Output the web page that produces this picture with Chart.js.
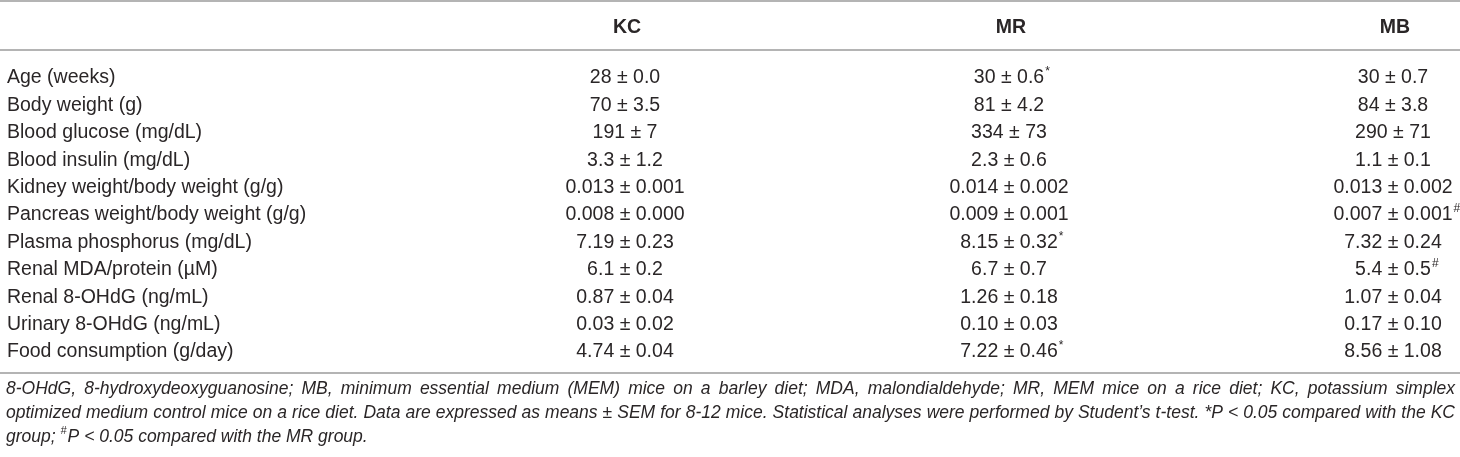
<!DOCTYPE html>
<html>
<head>
<meta charset="utf-8">
<script src="https://cdn.jsdelivr.net/npm/chart.js@4/dist/chart.umd.min.js"></script>
<style>
  html, body { margin: 0; padding: 0; background: #fff; }
  #wrap { width: 1460px; height: 457px; position: relative; }
</style>
</head>
<body>
<div id="wrap"><canvas id="tableChart"></canvas></div>
<script>
    // Группы (столбцы) и показатели (строки)
    const groups = ['KC', 'MR', 'MB'];
    const rows = [
        'Age (weeks)',
        'Body weight (g)',
        'Blood glucose (mg/dL)',
        'Blood insulin (mg/dL)',
        'Kidney weight/body weight (g/g)',
        'Pancreas weight/body weight (g/g)',
        'Plasma phosphorus (mg/dL)',
        'Renal MDA/protein (\u00b5M)',
        'Renal 8-OHdG (ng/mL)',
        'Urinary 8-OHdG (ng/mL)',
        'Food consumption (g/day)'
    ];

    // Средние значения и SEM (строками - чтобы сохранить знаки после запятой)
    const kcMean = ['28', '70', '191', '3.3', '0.013', '0.008', '7.19', '6.1', '0.87', '0.03', '4.74'];
    const kcSem  = ['0.0', '3.5', '7', '1.2', '0.001', '0.000', '0.23', '0.2', '0.04', '0.02', '0.04'];
    const mrMean = ['30', '81', '334', '2.3', '0.014', '0.009', '8.15', '6.7', '1.26', '0.10', '7.22'];
    const mrSem  = ['0.6', '4.2', '73', '0.6', '0.002', '0.001', '0.32', '0.7', '0.18', '0.03', '0.46'];
    const mbMean = ['30', '84', '290', '1.1', '0.013', '0.007', '7.32', '5.4', '1.07', '0.17', '8.56'];
    const mbSem  = ['0.7', '3.8', '71', '0.1', '0.002', '0.001', '0.24', '0.5', '0.04', '0.10', '1.08'];

    // Значимость: * против KC, # против MR
    const kcSig = ['', '', '', '', '', '', '', '', '', '', ''];
    const mrSig = ['*', '', '', '', '', '', '*', '', '', '', '*'];
    const mbSig = ['', '', '', '', '', '#', '', '#', '', '', ''];

    // Примечание под таблицей (по строкам, как в оригинале; |#| - надстрочный знак)
    const noteLines = [
        '8-OHdG, 8-hydroxydeoxyguanosine; MB, minimum essential medium (MEM) mice on a barley diet; MDA, malondialdehyde; MR, MEM mice on a rice diet; KC, potassium simplex',
        'optimized medium control mice on a rice diet. Data are expressed as means \u00b1 SEM for 8-12 mice. Statistical analyses were performed by Student\u2019s t-test. *P < 0.05 compared with the KC',
        'group; |#|P < 0.05 compared with the MR group.'
    ];

    const FONT = '"Liberation Sans", Arial, sans-serif';
    const BODY_SIZE = 19.5;
    const NOTE_SIZE = 17.5;
    const TEXT_COLOR = '#2a2627';
    const RULE_COLOR = '#9b9b9b';

    const columnData = [
        { mean: kcMean, sem: kcSem, sig: kcSig },
        { mean: mrMean, sem: mrSem, sig: mrSig },
        { mean: mbMean, sem: mbSem, sig: mbSig }
    ];

    const noteFont = 'italic ' + NOTE_SIZE + 'px ' + FONT;
    const supFont = 'italic ' + Math.round(NOTE_SIZE * 0.62) + 'px ' + FONT;

    // Слово с надстрочными частями: рисуем или только меряем
    function drawWord(ctx, w, x0, draw) {
        const parts = w.split('|');
        let px = x0;
        parts.forEach((p, k) => {
            if (!p) return;
            if (k % 2 === 1) {
                ctx.font = supFont;
                if (draw) ctx.fillText(p, px, -6);
                px += ctx.measureText(p).width + 1;
                ctx.font = noteFont;
            } else {
                if (draw) ctx.fillText(p, px, 0);
                px += ctx.measureText(p).width;
            }
        });
        return px - x0;
    }

    // Строка с выравниванием по ширине (как в журнальном примечании)
    function drawJustified(ctx, words, left, width, yPos, justify) {
        ctx.font = noteFont;
        const widths = words.map(w => drawWord(ctx, w, 0, false));
        const total = widths.reduce((a, b) => a + b, 0);
        const space = ctx.measureText(' ').width;
        let gap = justify ? (width - total) / (words.length - 1) : space;
        let sx = 1;
        if (gap < space * 0.8) {
            gap = space * 0.8;
            sx = width / (total + gap * (words.length - 1));
        }
        ctx.save();
        ctx.translate(left, yPos);
        ctx.scale(sx, 1);
        let cx = 0;
        words.forEach((w, i) => {
            drawWord(ctx, w, cx, true);
            cx += widths[i] + gap;
        });
        ctx.restore();
    }

    const tablePlugin = {
        id: 'tableText',
        afterDatasetsDraw(chart) {
            const { ctx, scales: { x, y } } = chart;
            const W = chart.width;
            ctx.save();
            ctx.fillStyle = TEXT_COLOR;
            ctx.textBaseline = 'middle';

            // Заголовки столбцов
            ctx.font = 'bold ' + BODY_SIZE + 'px ' + FONT;
            ctx.textAlign = 'center';
            groups.forEach((g, i) => {
                ctx.fillText(g, x.getPixelForValue(i) + 2, y.top - 50);
            });

            // Названия строк
            ctx.font = BODY_SIZE + 'px ' + FONT;
            ctx.textAlign = 'left';
            rows.forEach((r, i) => {
                ctx.fillText(r, 7, y.getPixelForValue(i));
            });

            // Ячейки - по координатам точек набора данных
            chart.data.datasets.forEach((ds, d) => {
                const meta = chart.getDatasetMeta(d);
                const col = columnData[d];
                meta.data.forEach((pt, i) => {
                    const txt = col.mean[i] + ' \u00b1 ' + col.sem[i];
                    ctx.font = BODY_SIZE + 'px ' + FONT;
                    ctx.textAlign = 'center';
                    ctx.fillText(txt, pt.x, pt.y);
                    if (col.sig[i]) {
                        const w = ctx.measureText(txt).width;
                        ctx.font = '12px ' + FONT;
                        ctx.textAlign = 'left';
                        ctx.fillText(col.sig[i], pt.x + w / 2 + 1, pt.y - 6);
                    }
                });
            });

            // Линии таблицы
            ctx.strokeStyle = RULE_COLOR;
            ctx.lineWidth = 1.5;
            [1, y.top - 28, y.bottom + 21].forEach(ly => {
                ctx.beginPath();
                ctx.moveTo(0, ly);
                ctx.lineTo(W, ly);
                ctx.stroke();
            });

            // Примечание
            ctx.textAlign = 'left';
            noteLines.forEach((line, i) => {
                drawJustified(ctx, line.split(' '), 6, 1449, y.bottom + 37 + i * 24, i < noteLines.length - 1);
            });
            ctx.restore();
        }
    };

    const ctx = document.getElementById('tableChart').getContext('2d');
    const chart = new Chart(ctx, {
        type: 'scatter',
        data: {
            datasets: groups.map(g => ({
                label: g,
                data: rows.map(r => ({ x: g, y: r })),
                pointRadius: 0,
                pointHoverRadius: 0
            }))
        },
        options: {
            responsive: true,
            maintainAspectRatio: false,
            animation: false,
            events: [],
            layout: {
                padding: { left: 625, right: 67, top: 78, bottom: 105 }
            },
            scales: {
                x: { type: 'category', labels: groups, offset: false, display: false },
                y: { type: 'category', labels: rows, offset: false, display: false }
            },
            plugins: {
                legend: { display: false },
                tooltip: { enabled: false }
            }
        },
        plugins: [tablePlugin]
    });
</script>
</body>
</html>
